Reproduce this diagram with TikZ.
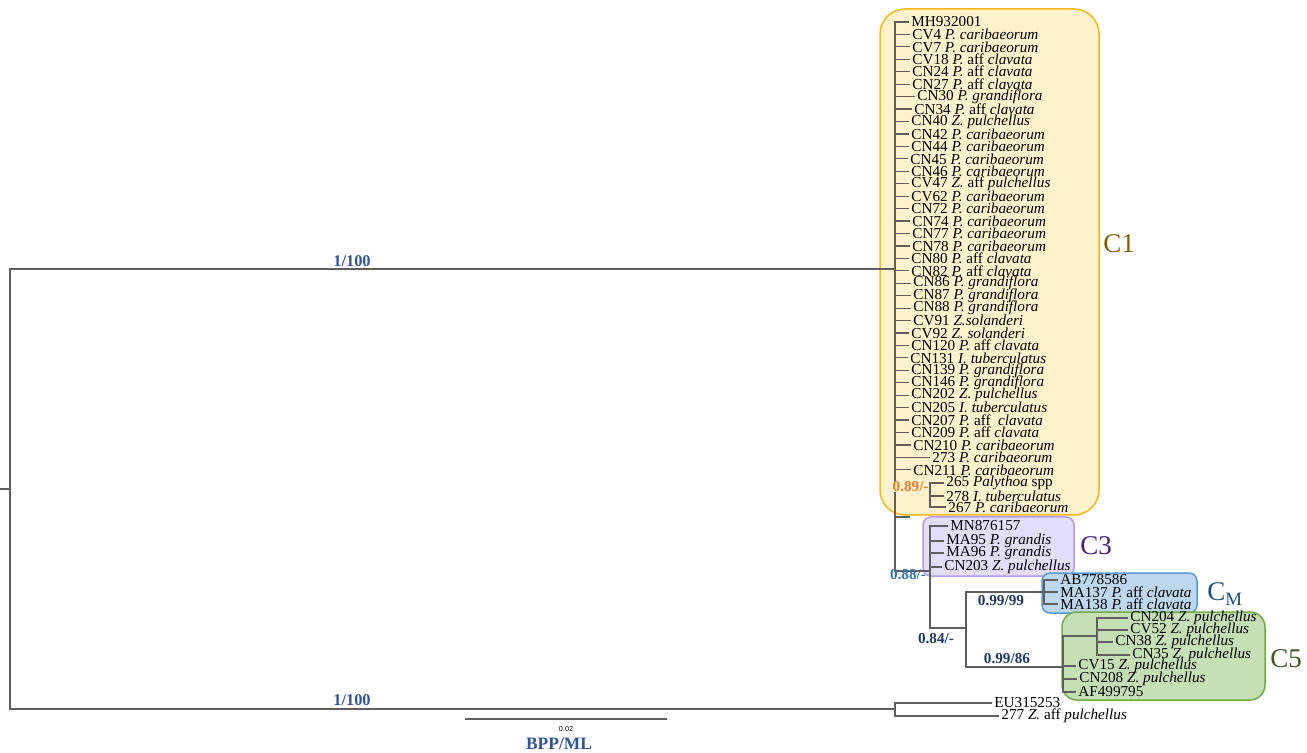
\documentclass[tikz,border=0pt]{standalone}
\usepackage{fontspec}
\setmainfont{Liberation Serif}
\newfontfamily\barfont{Liberation Sans}
\usetikzlibrary{positioning, math, calc}
\definecolor{linegray}{RGB}{95,95,95}
\definecolor{yelfill}{RGB}{255,242,204}
\definecolor{yeldraw}{RGB}{245,184,20}
\definecolor{yeltext}{RGB}{127,96,0}
\definecolor{purfill}{RGB}{229,222,251}
\definecolor{purdraw}{RGB}{180,155,240}
\definecolor{purtext}{RGB}{75,28,120}
\definecolor{blufill}{RGB}{189,215,238}
\definecolor{bludraw}{RGB}{91,155,213}
\definecolor{blutext}{RGB}{31,78,121}
\definecolor{grefill}{RGB}{197,224,180}
\definecolor{gredraw}{RGB}{112,173,71}
\definecolor{gretext}{RGB}{56,87,35}
\definecolor{suppblue}{RGB}{47,85,151}
\definecolor{supporange}{RGB}{237,125,49}
\definecolor{suppmid}{RGB}{46,117,182}
\definecolor{suppnavy}{RGB}{31,56,100}

\tikzset{
  branch/.style={draw=linegray, line width=0.6pt},
  tip/.style={anchor=west, inner sep=1pt, font=\fontsize{7.6}{8}\selectfont},
  supp/.style={font=\bfseries\fontsize{7.6}{8}\selectfont, inner sep=0pt},
  cladebox/.style={line width=0.75pt},
  cladename/.style={anchor=west, inner sep=0pt, font=\fontsize{13.5}{14}\selectfont},
}

\begin{document}
\begin{tikzpicture}[x=0.5pt, y=-0.5pt]
\tikzmath{
\tipstep=12.44;
\tiptop=22;
}
\useasboundingbox (0,0) rectangle (1307,753);

%clade boxes
\filldraw[cladebox, draw=yeldraw, fill=yelfill, rounded corners=12.5pt] (880,9) rectangle (1099,515);
\filldraw[cladebox, draw=purdraw, fill=purfill, rounded corners=4pt] (923,517) rectangle (1074,576);
\filldraw[cladebox, draw=bludraw, fill=blufill, rounded corners=4pt] (1042,573) rectangle (1197,613);
\filldraw[cladebox, draw=gredraw, fill=grefill, rounded corners=7.5pt] (1062,612) rectangle (1265,700);

%internal nodes
\coordinate (base) at (0,489);
\coordinate (root) at (10,489);
\coordinate (nC1) at (895,269);
\coordinate (n089) at (930,490);
\coordinate (n088) at (930,571);
\coordinate (n084) at (966,628);
\coordinate (nCM) at (1044,592);
\coordinate (nC5) at (1063,667);
\coordinate (nSub) at (1097,636);
\coordinate (nOut) at (895,709);

\draw[branch] (base) -- (root);
\draw[branch] (root) |- (nC1);
\draw[branch] (root) |- (nOut);
\draw[branch] (nC1) |- (n089);
\draw[branch] (nC1) |- (n088);
\draw[branch] (n088) |- (n084);
\draw[branch] (n084) |- (nCM);
\draw[branch] (n084) |- (nC5);
\draw[branch] (nC5) |- (nSub);

%C1 tips
\foreach \lab/\dx [count=\i] in {
  {MH932001}/0,
  {CV4 \textit{P. caribaeorum}}/1,
  {CV7 \textit{P. caribaeorum}}/1,
  {CV18 \textit{P.} aff \textit{clavata}}/1,
  {CN24 \textit{P.} aff \textit{clavata}}/1,
  {CN27 \textit{P.} aff \textit{clavata}}/1,
  {CN30 \textit{P. grandiflora}}/6,
  {CN34 \textit{P.} aff \textit{clavata}}/3,
  {CN40 \textit{Z. pulchellus}}/0,
  {CN42 \textit{P. caribaeorum}}/0,
  {CN44 \textit{P. caribaeorum}}/0,
  {CN45 \textit{P. caribaeorum}}/-1,
  {CN46 \textit{P. caribaeorum}}/0,
  {CV47 \textit{Z.} aff \textit{pulchellus}}/0,
  {CV62 \textit{P. caribaeorum}}/0,
  {CN72 \textit{P. caribaeorum}}/0,
  {CN74 \textit{P. caribaeorum}}/1,
  {CN77 \textit{P. caribaeorum}}/1,
  {CN78 \textit{P. caribaeorum}}/1,
  {CN80 \textit{P.} aff \textit{clavata}}/0,
  {CN82 \textit{P.} aff \textit{clavata}}/0,
  {CN86 \textit{P. grandiflora}}/2,
  {CN87 \textit{P. grandiflora}}/2,
  {CN88 \textit{P. grandiflora}}/2,
  {CV91 \textit{Z.solanderi}}/2,
  {CV92 \textit{Z. solanderi}}/0,
  {CN120 \textit{P.} aff \textit{clavata}}/0,
  {CN131 \textit{I. tuberculatus}}/-1,
  {CN139 \textit{P. grandiflora}}/0,
  {CN146 \textit{P. grandiflora}}/0,
  {CN202 \textit{Z. pulchellus}}/0,
  {CN205 \textit{I. tuberculatus}}/0,
  {CN207 \textit{P.} aff~ \textit{clavata}}/0,
  {CN209 \textit{P.} aff \textit{clavata}}/0,
  {CN210 \textit{P. caribaeorum}}/2,
  {273 \textit{P. caribaeorum}}/21,
  {CN211 \textit{P. caribaeorum}}/2}{
  \node[tip] (t\i) at ({909+\dx},{\tiptop+\tipstep*(\i-1)}) {\lab};
  \draw[branch] (nC1) |- (t\i.west);
}
\coordinate (tStub) at (910,517);
\draw[branch] (nC1) |- (tStub);

%0.89 clade
\node[tip] (p265) at (944,483) {265 \textit{Palythoa} spp};
\node[tip] (p278) at (944,496) {278 \textit{I. tuberculatus}};
\node[tip] (p267) at (946,507) {267 \textit{P. caribaeorum}};
\foreach \t in {p265,p278,p267} \draw[branch] (n089) |- (\t.west);

%C3 tips
\node[tip] (mn876) at (948,526) {MN876157};
\node[tip] (ma95) at (944,541) {MA95 \textit{P. grandis}};
\node[tip] (ma96) at (944,553) {MA96 \textit{P. grandis}};
\node[tip] (cn203) at (942,567) {CN203 \textit{Z. pulchellus}};
\foreach \t in {mn876,ma95,ma96,cn203} \draw[branch] (n088) |- (\t.west);

%CM tips
\node[tip] (ab778) at (1058,580) {AB778586};
\node[tip] (ma137) at (1058,592) {MA137 \textit{P.} aff \textit{clavata}};
\node[tip] (ma138) at (1058,604) {MA138 \textit{P.} aff \textit{clavata}};
\foreach \t in {ab778,ma137,ma138} \draw[branch] (nCM) |- (\t.west);

%C5 tips
\node[tip] (cn204) at (1128,618) {CN204 \textit{Z. pulchellus}};
\node[tip] (cv52) at (1128,630) {CV52 \textit{Z. pulchellus}};
\node[tip] (cn38) at (1113,642) {CN38 \textit{Z. pulchellus}};
\node[tip] (cn35) at (1130,655) {CN35 \textit{Z. pulchellus}};
\foreach \t in {cn204,cv52,cn38,cn35} \draw[branch] (nSub) |- (\t.west);
\node[tip] (cv15) at (1076,666) {CV15 \textit{Z. pulchellus}};
\node[tip] (cn208) at (1077,679) {CN208 \textit{Z. pulchellus}};
\node[tip] (af499) at (1076,692) {AF499795};
\foreach \t in {cv15,cn208,af499} \draw[branch] (nC5) |- (\t.west);

%outgroup
\node[tip] (eu315) at (992,703) {EU315253};
\node[tip] (o277) at (999,716) {277 \textit{Z.} aff \textit{pulchellus}};
\draw[branch] (nOut) |- (eu315.west);
\draw[branch] (nOut) |- (o277.west);

%supports
\node[supp, text=suppblue, font=\bfseries\fontsize{8.2}{9}\selectfont] (s1) at (352,261) {1/100};
\node[supp, text=suppblue, font=\bfseries\fontsize{8.2}{9}\selectfont] (s2) at (352,700) {1/100};
\node[supp, text=supporange, fill=yelfill, anchor=east] (s3) at (929,487) {0.89/-};
\node[supp, text=suppmid] (s4) at (908,575) {0.88/-};
\node[supp, text=suppnavy] (s5) at (936,639) {0.84/-};
\node[supp, text=suppnavy] (s6) at (1001,601) {0.99/99};
\node[supp, text=suppnavy] (s7) at (1007,659) {0.99/86};

%clade names
\node[cladename, text=yeltext] (lC1) at (1103,244) {C1};
\node[cladename, text=purtext] (lC3) at (1080,546) {C3};
\node[cladename, text=blutext] (lCM) at (1207,594) {C\textsubscript{M}};
\node[cladename, text=gretext] (lC5) at (1270,659) {C5};

%scale bar
\coordinate (sbL) at (465,719);
\coordinate (sbR) at (667,719);
\draw[branch] (sbL) -- (sbR);
\node[font=\barfont\fontsize{3.6}{4}\selectfont, below=0pt] (sbTxt) at ($(sbL)!0.5!(sbR)$) {0.02};
\node[font=\bfseries\fontsize{8.7}{9}\selectfont, text=suppblue] (bpp) at (559,744) {BPP/ML};
\end{tikzpicture}
\end{document}
